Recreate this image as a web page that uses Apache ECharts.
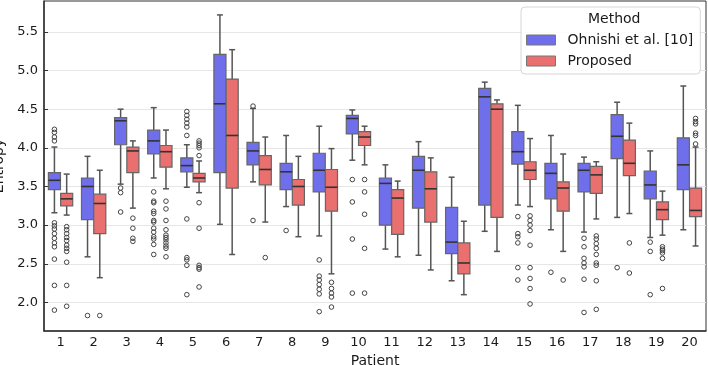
<!DOCTYPE html>
<html>
<head>
<meta charset="utf-8">
<script src="https://cdn.jsdelivr.net/npm/echarts@6/dist/echarts.min.js"></script>
<style>
html,body{margin:0;padding:0;background:#fff;}
#chart{width:708px;height:365px;}
</style>
</head>
<body>
<div id="chart"></div>
<script>
// ---- data ----
const patients = ['1','2','3','4','5','6','7','8','9','10','11','12','13','14','15','16','17','18','19','20'];
const yTicks = [2.0, 2.5, 3.0, 3.5, 4.0, 4.5, 5.0, 5.5];
const methodNames = ['Ohnishi et al. [10]', 'Proposed'];

// [whisker low, Q1, median, Q3, whisker high]
const ohnishiStats = [
  [3.16, 3.46, 3.58, 3.68, 4.01],
  [2.59, 3.07, 3.50, 3.61, 3.89],
  [3.53, 4.04, 4.35, 4.39, 4.50],
  [3.61, 3.92, 4.09, 4.23, 4.52],
  [3.49, 3.69, 3.77, 3.87, 4.04],
  [3.01, 3.68, 4.57, 5.21, 5.72],
  [3.56, 3.78, 3.96, 4.07, 4.51],
  [3.24, 3.46, 3.69, 3.80, 4.16],
  [2.86, 3.43, 3.71, 3.93, 4.28],
  [3.84, 4.18, 4.38, 4.42, 4.49],
  [2.69, 3.00, 3.54, 3.61, 3.78],
  [2.61, 3.22, 3.71, 3.89, 4.08],
  [2.28, 2.63, 2.78, 3.23, 3.62],
  [2.92, 3.26, 4.66, 4.77, 4.85],
  [3.26, 3.79, 3.95, 4.21, 4.55],
  [2.94, 3.34, 3.67, 3.80, 4.16],
  [2.91, 3.43, 3.71, 3.80, 3.88],
  [3.10, 3.86, 4.15, 4.43, 4.59],
  [2.84, 3.34, 3.52, 3.70, 3.96],
  [2.94, 3.46, 3.78, 4.13, 4.80]
];
const proposedStats = [
  [3.13, 3.25, 3.34, 3.41, 3.66],
  [2.32, 2.89, 3.28, 3.40, 3.71],
  [3.22, 3.68, 3.96, 4.01, 4.09],
  [3.47, 3.75, 3.95, 4.03, 4.23],
  [3.42, 3.56, 3.61, 3.67, 3.83],
  [2.62, 3.48, 4.16, 4.89, 5.27],
  [3.04, 3.52, 3.72, 3.90, 4.14],
  [2.85, 3.26, 3.50, 3.59, 3.89],
  [2.37, 3.18, 3.49, 3.72, 3.99],
  [3.78, 4.03, 4.14, 4.21, 4.28],
  [2.59, 2.88, 3.35, 3.46, 3.57],
  [2.42, 3.04, 3.47, 3.69, 3.87],
  [2.10, 2.37, 2.51, 2.77, 3.05],
  [2.66, 3.10, 4.50, 4.57, 4.62],
  [3.24, 3.59, 3.71, 3.82, 4.12],
  [2.66, 3.18, 3.48, 3.56, 3.92],
  [3.08, 3.41, 3.65, 3.76, 3.82],
  [3.15, 3.64, 3.80, 4.10, 4.32],
  [2.87, 3.07, 3.20, 3.30, 3.44],
  [2.73, 3.11, 3.19, 3.48, 4.01]
];
const ohnishiOutliers = [
  [4.24, 4.20, 4.14, 4.09, 3.03, 2.99, 2.95, 2.89, 2.83, 2.77, 2.72, 2.56, 2.22, 1.90],
  [1.83],
  [3.48, 3.42, 3.17],
  [3.43, 3.31, 3.29, 3.18, 3.15, 3.06, 3.04, 2.96, 2.91, 2.85, 2.82, 2.75, 2.62],
  [4.47, 4.42, 4.37, 4.32, 4.27, 4.16, 3.08, 2.58, 2.55, 2.48, 2.10],
  [],
  [4.54, 3.06],
  [2.93],
  [2.55, 2.34, 2.29, 2.23, 2.17, 2.11, 1.88],
  [3.59, 3.30, 2.82, 2.12],
  [],
  [],
  [],
  [],
  [3.11, 2.89, 2.85, 2.77, 2.45, 2.29],
  [2.39],
  [2.83, 2.72, 2.57, 2.51, 2.46, 2.30, 1.87],
  [2.45],
  [2.78, 2.66, 2.10],
  []
];
const proposedOutliers = [
  [2.98, 2.94, 2.89, 2.84, 2.80, 2.74, 2.70, 2.66, 2.52, 2.22, 1.95],
  [1.83],
  [3.09, 2.96, 2.83, 2.79],
  [3.31, 3.21, 3.06, 2.94, 2.87, 2.84, 2.81, 2.77, 2.73, 2.70, 2.59],
  [4.09, 4.06, 4.03, 4.00, 3.90, 3.29, 2.96, 2.48, 2.45, 2.43, 2.20],
  [],
  [2.58],
  [],
  [2.26, 2.18, 2.12, 2.07, 1.94],
  [3.59, 3.43, 3.14, 2.70, 2.12],
  [],
  [],
  [],
  [],
  [3.12, 3.06, 3.00, 2.93, 2.74, 2.45, 2.31, 2.18, 1.98],
  [2.29],
  [2.86, 2.82, 2.76, 2.70, 2.62, 2.51, 2.48, 2.28, 1.91],
  [2.77, 2.38],
  [2.72, 2.69, 2.67, 2.64, 2.57, 2.18],
  [4.38, 4.34, 4.31, 4.19, 4.16, 4.05]
];

// ---- styling ----
const FONT = 'DejaVu Sans';
const BLUE = '#6f6fec';
const RED = '#ea6f6f';
const LINE = '#555555';
const BOX_OFFSET = 0.185;   // fraction of band
const BOX_WIDTH = 0.365;    // fraction of band
const CAP_WIDTH = 0.18;

function boxRenderer(offset, fill) {
  return function (params, api) {
    const x = api.value(0);
    const band = api.size([1, 0])[0];
    const cx = api.coord([x, 0])[0] + offset * band;
    const w = BOX_WIDTH * band;
    const cw = CAP_WIDTH * band;
    const yy = i => api.coord([x, api.value(i)])[1];
    const yLow = yy(1), yQ1 = yy(2), yMed = yy(3), yQ3 = yy(4), yHigh = yy(5);
    const ls = { stroke: LINE, lineWidth: 1.5, fill: null };
    return {
      type: 'group',
      children: [
        { type: 'line', shape: { x1: cx, y1: yQ1, x2: cx, y2: yLow }, style: ls },
        { type: 'line', shape: { x1: cx, y1: yQ3, x2: cx, y2: yHigh }, style: ls },
        { type: 'line', shape: { x1: cx - cw / 2, y1: yLow, x2: cx + cw / 2, y2: yLow }, style: ls },
        { type: 'line', shape: { x1: cx - cw / 2, y1: yHigh, x2: cx + cw / 2, y2: yHigh }, style: ls },
        { type: 'rect', shape: { x: cx - w / 2, y: yQ3, width: w, height: yQ1 - yQ3 },
          style: { fill: fill, stroke: '#666', lineWidth: 1.2 } },
        { type: 'line', shape: { x1: cx - w / 2, y1: yMed, x2: cx + w / 2, y2: yMed },
          style: { stroke: '#333', lineWidth: 1.6 } }
      ]
    };
  };
}
function outlierRenderer(offset) {
  return function (params, api) {
    const x = api.value(0);
    const band = api.size([1, 0])[0];
    const p = api.coord([x, api.value(1)]);
    return {
      type: 'circle',
      shape: { cx: p[0] + offset * band, cy: p[1], r: 2.3 },
      style: { fill: null, stroke: '#444', lineWidth: 1 }
    };
  };
}

const boxData = stats => stats.map((s, i) => [i].concat(s));
const outData = outs => {
  const r = [];
  outs.forEach((arr, i) => arr.forEach(v => r.push([i, v])));
  return r;
};

const chart = echarts.init(document.getElementById('chart'), null, { renderer: 'canvas' });
chart.setOption({
  animation: false,
  backgroundColor: '#fff',
  textStyle: { fontFamily: FONT },
  grid: { left: 44, right: 2, top: 1, bottom: 34, show: true, borderColor: '#333', borderWidth: 1,
    containLabel: false, outerBoundsMode: 'none' },
  xAxis: {
    type: 'category',
    data: patients,
    name: 'Patient',
    nameLocation: 'middle',
    nameGap: 20,
    nameTextStyle: { fontFamily: FONT, fontSize: 14, color: '#1a1a1a' },
    axisLine: { lineStyle: { color: '#333', width: 1.5 } },
    axisTick: { inside: true, length: 4, alignWithLabel: true, lineStyle: { color: '#333', width: 1 } },
    axisLabel: { fontFamily: FONT, fontSize: 13, color: '#1a1a1a', margin: 5, interval: 0 },
    splitLine: { show: false }
  },
  yAxis: {
    type: 'value',
    min: 1.63,
    max: 5.9,
    name: 'Entropy',
    nameLocation: 'middle',
    nameGap: 38,
    nameTextStyle: { fontFamily: FONT, fontSize: 14, color: '#1a1a1a' },
    axisLine: { show: true, lineStyle: { color: '#333', width: 1.5 } },
    axisTick: { show: true, inside: true, length: 4, customValues: yTicks, lineStyle: { color: '#333', width: 1 } },
    axisLabel: { fontFamily: FONT, fontSize: 13, color: '#1a1a1a', margin: 6, customValues: yTicks,
      formatter: v => v.toFixed(1) },
    splitLine: { show: true, lineStyle: { color: '#e6e6e6', width: 1 } }
  },
  legend: {
    orient: 'vertical',
    left: 521,
    top: 7,
    padding: [25, 7, 5, 5],
    itemGap: 5,
    itemWidth: 29,
    itemHeight: 10,
    backgroundColor: 'rgba(255,255,255,0.85)',
    borderColor: '#d6d6d6',
    borderWidth: 1,
    borderRadius: 4,
    selectedMode: false,
    textStyle: { fontFamily: FONT, fontSize: 14, color: '#1a1a1a', lineHeight: 16, padding: [0, 0, 0, 7] },
    data: [
      { name: methodNames[0], icon: 'rect', itemStyle: { color: BLUE, borderColor: '#777', borderWidth: 1 } },
      { name: methodNames[1], icon: 'rect', itemStyle: { color: RED, borderColor: '#777', borderWidth: 1 } }
    ]
  },
  graphic: [{
    type: 'text', left: 588, top: 12, z: 100,
    style: { text: 'Method', fontFamily: FONT, fontSize: 14, fill: '#1a1a1a' }
  }],
  series: [
    { name: methodNames[0], type: 'custom', renderItem: boxRenderer(-BOX_OFFSET, BLUE),
      itemStyle: { color: BLUE }, data: boxData(ohnishiStats), encode: { x: 0, y: [1, 2, 3, 4, 5] }, z: 2 },
    { name: methodNames[1], type: 'custom', renderItem: boxRenderer(BOX_OFFSET, RED),
      itemStyle: { color: RED }, data: boxData(proposedStats), encode: { x: 0, y: [1, 2, 3, 4, 5] }, z: 2 },
    { name: methodNames[0], type: 'custom', renderItem: outlierRenderer(-BOX_OFFSET),
      itemStyle: { color: BLUE }, data: outData(ohnishiOutliers), encode: { x: 0, y: 1 }, z: 3 },
    { name: methodNames[1], type: 'custom', renderItem: outlierRenderer(BOX_OFFSET),
      itemStyle: { color: RED }, data: outData(proposedOutliers), encode: { x: 0, y: 1 }, z: 3 }
  ]
});
</script>
</body>
</html>
